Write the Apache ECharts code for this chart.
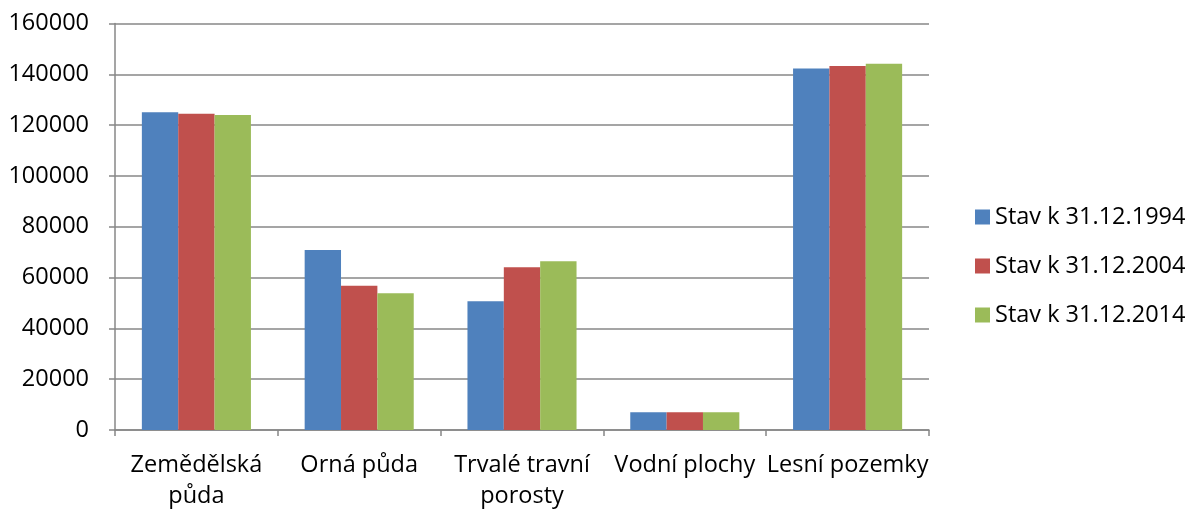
<!DOCTYPE html>
<html>
<head>
<meta charset="utf-8">
<script src="https://cdn.jsdelivr.net/npm/echarts@6/dist/echarts.min.js"></script>
<style>
html, body { margin: 0; padding: 0; background: #fff; }
#main { width: 1185px; height: 512px; }
</style>
</head>
<body>
<div id="main"></div>
<script>
// data
var categories = ['Zemědělská\npůda', 'Orná půda', 'Trvalé travní\nporosty', 'Vodní plochy', 'Lesní pozemky'];
var seriesNames = ['Stav k 31.12.1994', 'Stav k 31.12.2004', 'Stav k 31.12.2014'];
var values1994 = [125100, 70800, 50700, 7000, 142300];
var values2004 = [124500, 56800, 64100, 7000, 143300];
var values2014 = [124000, 53800, 66400, 7000, 144200];

var font = '"Open Sans", "Noto Sans", sans-serif';
var gray = '#878787';

var myChart = echarts.init(document.getElementById('main'));
var option = {
    animation: false,
    color: ['#4F81BD', '#C0504D', '#9BBB59'],
    grid: {
        left: 115,
        right: 256,
        top: 23.5,
        bottom: 79
    },
    legend: {
        orient: 'vertical',
        left: 970,
        top: 200,
        itemWidth: 15,
        itemHeight: 15,
        itemGap: 25,
        icon: 'rect',
        textStyle: { fontFamily: font, fontSize: 23.5, color: '#000' },
        data: seriesNames
    },
    xAxis: {
        type: 'category',
        data: categories,
        axisLine: { lineStyle: { color: gray, width: 1.5 } },
        axisTick: { show: true, length: 6, lineStyle: { color: gray, width: 1.5 } },
        axisLabel: {
            margin: 20,
            fontFamily: font,
            fontSize: 23.5,
            lineHeight: 31,
            color: '#000',
            interval: 0
        }
    },
    yAxis: {
        type: 'value',
        min: 0,
        max: 160000,
        interval: 20000,
        axisLine: { show: true, lineStyle: { color: gray, width: 1.5 } },
        axisTick: { show: true, length: 6, lineStyle: { color: gray, width: 1.5 } },
        splitLine: { lineStyle: { color: gray, width: 1.5 } },
        axisLabel: {
            margin: 26,
            fontFamily: font,
            fontSize: 23.5,
            color: '#000',
            formatter: function (v) { return String(v); }
        }
    },
    series: [{
        name: seriesNames[0],
        type: 'bar',
        barGap: '0%',
        barCategoryGap: '33%',
        data: values1994
    }, {
        name: seriesNames[1],
        type: 'bar',
        data: values2004
    }, {
        name: seriesNames[2],
        type: 'bar',
        data: values2014
    }]
};
myChart.setOption(option);
window.onresize = function() {
    myChart.resize();
};
</script>
</body>
</html>
